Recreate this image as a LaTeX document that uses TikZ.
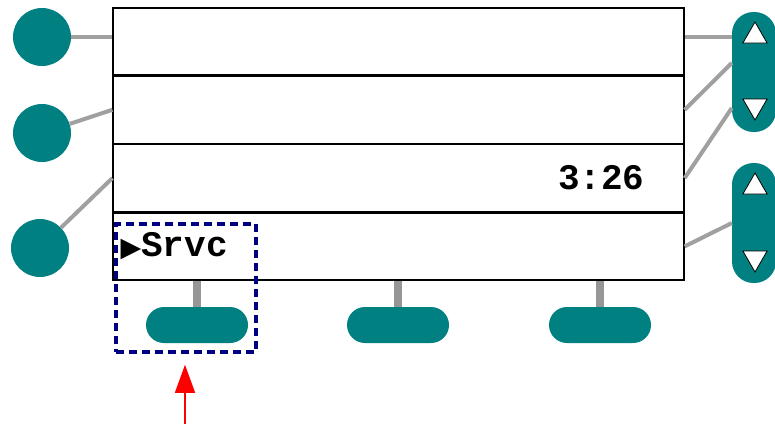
\documentclass[tikz,border=0pt]{standalone}
\usepackage{fontspec}
\setmonofont{Liberation Mono}
\newfontfamily\symfont{DejaVu Sans}
\usetikzlibrary{shapes.geometric, shapes.misc, arrows.meta, positioning, calc}
\definecolor{keyteal}{RGB}{0,128,128}
\definecolor{selnavy}{RGB}{0,0,128}
\definecolor{wiregray}{RGB}{160,160,160}
\definecolor{stemgray}{RGB}{150,150,150}
\tikzset{
    lcdrow/.style={draw=black, line width=1.3pt, fill=white, minimum width=571pt, minimum height=67pt, inner sep=0},
    lcdtext/.style={font=\fontsize{36}{36}\selectfont\ttfamily\bfseries, inner sep=0},
    sidekey/.style={circle, fill=keyteal, minimum size=58pt, inner sep=0},
    rocker/.style={rectangle, rounded corners=21.5pt, fill=keyteal, minimum width=44pt, minimum height=120pt, inner sep=0},
    arrowtri/.style={regular polygon, regular polygon sides=3, draw=black, line width=0.8pt, fill=white, minimum size=28pt, inner sep=0},
    softbar/.style={rounded rectangle, fill=keyteal, minimum width=102pt, minimum height=36pt, inner sep=0},
    wire/.style={draw=wiregray, line width=4pt},
    stem/.style={draw=stemgray, line width=8pt},
    selbox/.style={draw=selnavy, line width=3.5pt, dash pattern=on 8pt off 5pt, minimum width=140pt, minimum height=128pt, inner sep=0},
}
\begin{document}
\begin{tikzpicture}[x=1pt, y=-1pt]
    \useasboundingbox (0,0) rectangle (775,424);
    % screen rows
    \node[lcdrow] (r1) at (398.5,41.5) {};
    \node[lcdrow, below=0pt of r1] (r2) {};
    \node[lcdrow, below=0pt of r2] (r3) {};
    \node[lcdrow, below=0pt of r3] (r4) {};
    \node[lcdtext, anchor=east] (clock) at ($(r3.east)+(-40,0)$) {3:26};
    \node[lcdtext, anchor=west] (menu) at ($(r4.west)+(8,0)$) {{\fontsize{27}{27}\selectfont\symfont ▶}Srvc};
    % side keys
    \foreach \i/\x/\y in {1/42/37,2/42/133,3/40/248} {
        \node[sidekey] (l\i) at (\x,\y) {};
    }
    \draw[wire] (l1) -- (l1 -| r1.west);
    \draw[wire] (l2) -- (r2.west);
    \draw[wire] (l3) -- (r3.west);
    % rockers
    \node[rocker] (p1) at (754,72) {};
    \node[rocker] (p2) at (754,223) {};
    \node[arrowtri] (p1up) at (755,36) {};
    \node[arrowtri, shape border rotate=180] (p1dn) at (755,106) {};
    \node[arrowtri] (p2up) at (755,187) {};
    \node[arrowtri, shape border rotate=180] (p2dn) at (755,258) {};
    \draw[wire] (r1.east |- l1) -- (p1.west |- l1);
    \draw[wire] (r2.east) -- ($(p1.west)+(0,-9)$);
    \draw[wire] (r3.east) -- ($(p1.west)+(0,36)$);
    \draw[wire] (r4.east) -- (p2.west);
    % soft keys
    \foreach \i/\x in {1/197,2/398,3/600} {
        \node[softbar] (b\i) at (\x,325) {};
        \draw[stem] (b\i |- r4.south) -- (b\i.north);
    }
    % selection
    \node[selbox] (sel) at (186,288) {};
    \coordinate (tail) at (185,424);
    \draw[red, line width=1.5pt, -{Triangle[width=20pt,length=28pt]}] (tail) -- ($(sel.south -| tail)+(0,11)$);
\end{tikzpicture}
\end{document}
